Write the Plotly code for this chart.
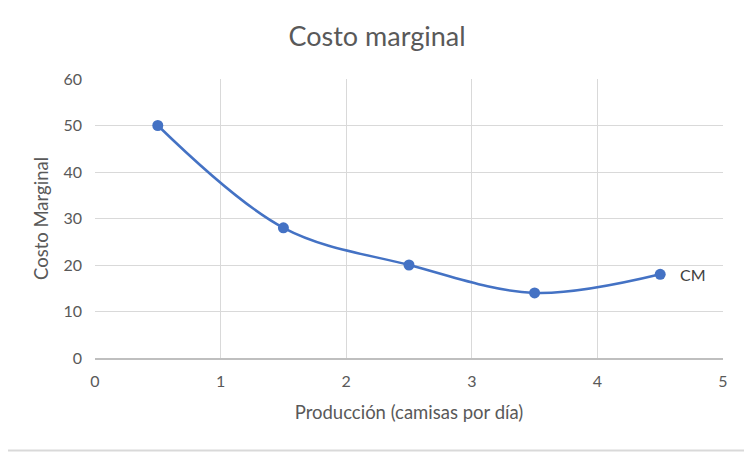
import plotly.graph_objects as go

produccion = [0.5, 1.5, 2.5, 3.5, 4.5]
costo_marginal = [50, 28, 20, 14, 18]
series_name = "CM"

# page has an 8px body margin; compensate so the plot lands where the reference has it
OFF = 8
W, H = 752 - OFF, 452 - OFF
ml, mr, mt, mb = 95 - OFF, 29, 79 - OFF, 94
pw, ph = W - ml - mr, H - mt - mb

fig = go.Figure()
fig.add_trace(go.Scatter(
    x=produccion, y=costo_marginal, mode="lines+markers",
    line=dict(color="#4472C4", width=2.5, shape="spline", smoothing=1.0),
    marker=dict(color="#4472C4", size=11),
    name=series_name, showlegend=False, cliponaxis=False,
))
fig.add_annotation(x=produccion[-1], y=costo_marginal[-1], text=series_name,
                   showarrow=False, xanchor="left", xshift=18,
                   font=dict(size=16, color="#404040"))

def px2x(p):
    return (p - OFF - ml) / pw

def py2y(p):
    return (H + OFF - mb - p) / ph

# right and bottom edges of chart border (left/top fall outside the figure div)
fig.add_shape(type="line", xref="paper", yref="paper",
              x0=px2x(750.5), x1=px2x(750.5), y0=py2y(8), y1=py2y(451),
              line=dict(color="#D9D9D9", width=2))
fig.add_shape(type="line", xref="paper", yref="paper",
              x0=px2x(8), x1=px2x(751), y0=py2y(450.5), y1=py2y(450.5),
              line=dict(color="#D9D9D9", width=2))

fig.update_layout(
    width=W, height=H,
    margin=dict(l=ml, r=mr, t=mt, b=mb),
    paper_bgcolor="white", plot_bgcolor="white",
    font=dict(family="Lato, Carlito, sans-serif", color="#595959"),
    title=dict(text="Costo marginal", x=px2x(377), xref="paper", xanchor="center",
               y=1 - (37 - OFF) / H, yanchor="middle",
               font=dict(size=27, color="#595959")),
    xaxis=dict(range=[0, 5], dtick=1, showgrid=True, gridcolor="#D9D9D9",
               gridwidth=1.2,
               showline=True, linecolor="#BFBFBF", linewidth=1.5, zeroline=False,
               ticks="", ticklabelstandoff=8,
               tickfont=dict(size=16, color="#595959"),
               title=dict(text="Producción (camisas por día)",
                          font=dict(size=18.5, color="#595959"), standoff=17)),
    yaxis=dict(range=[0, 60], dtick=10, showgrid=True, gridcolor="#D9D9D9",
               gridwidth=1.2,
               showline=False, zeroline=False, ticks="", ticklabelstandoff=12,
               tickfont=dict(size=16, color="#595959"),
               title=dict(text="Costo Marginal",
                          font=dict(size=18.5, color="#595959"), standoff=9)),
)

fig.write_html("out.html")
